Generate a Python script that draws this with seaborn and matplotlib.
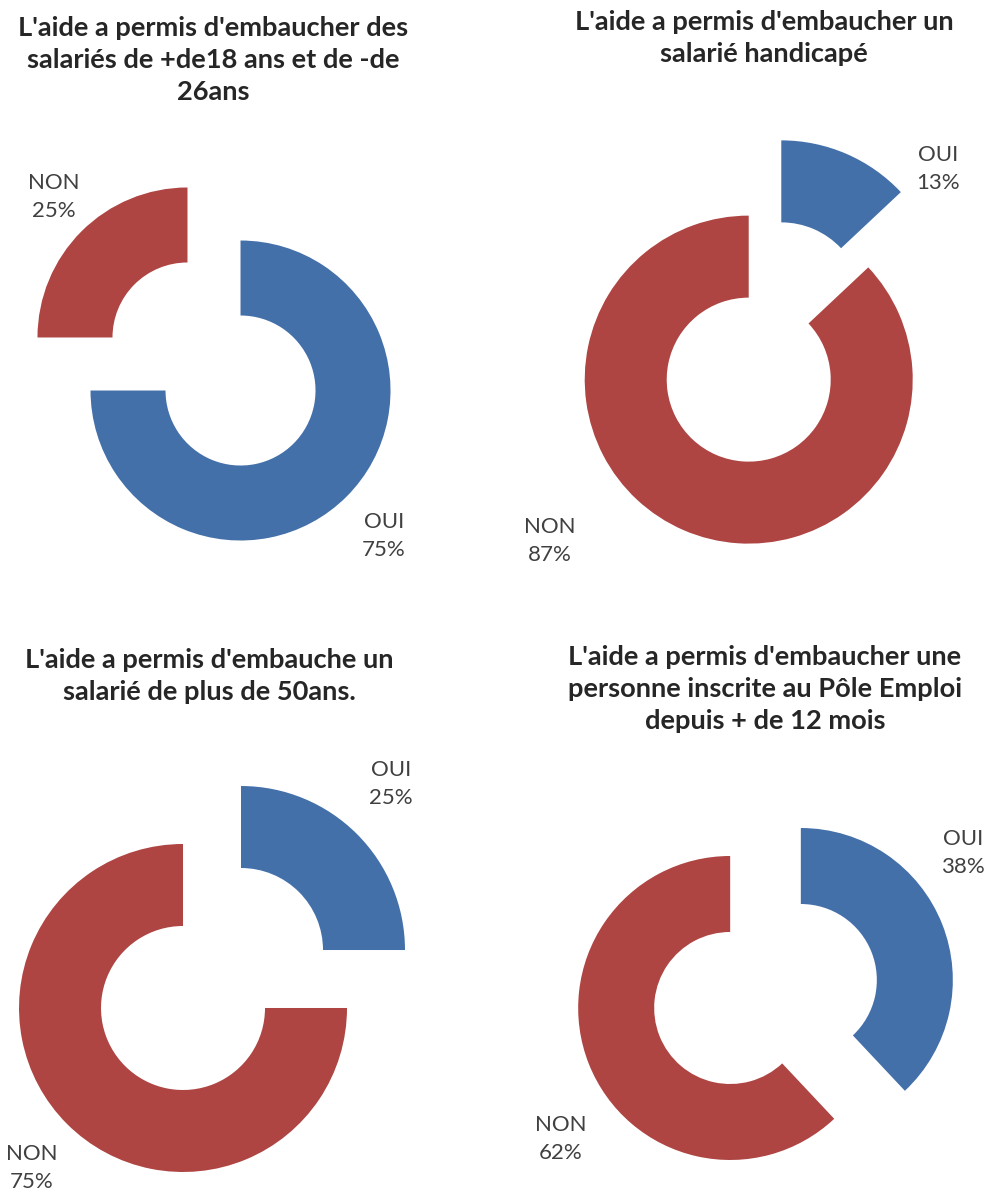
import matplotlib
matplotlib.use("Agg")
import matplotlib.pyplot as plt
import seaborn as sns

# Survey answers: share of employers saying the hiring aid helped them hire each profile
titles = [
    "L'aide a permis d'embaucher des\nsalariés de +de18 ans et de -de\n26ans",
    "L'aide a permis d'embaucher un\nsalarié handicapé",
    "L'aide a permis d'embauche un\nsalarié de plus de 50ans.",
    "L'aide a permis d'embaucher une\npersonne inscrite au Pôle Emploi\ndepuis + de 12 mois",
]
categories = ["OUI", "NON"]
oui_pct = [75, 13, 25, 38]
non_pct = [25, 87, 75, 62]

sns.set_theme(style="white")
plt.rcParams["font.family"] = ["Lato", "DejaVu Sans"]
palette = sns.color_palette(["#4470AA", "#AE4543"])

W, H = 989, 1193
fig = plt.figure(figsize=(W / 100, H / 100), dpi=100)
ax = fig.add_axes([0, 0, 1, 1])

# Panel layout in pixels, measured from the top-left corner
centers = [(214, 364), (765, 342), (212, 979), (765.5, 994)]
radii = [150, 164, 164, 152]
title_pos = [(213, 60), (764, 38), (209, 676), (765, 689)]
label_pos = [
    {"OUI": (384, 536), "NON": (54, 197)},
    {"OUI": (938, 169), "NON": (550, 541)},
    {"OUI": (391, 784), "NON": (32, 1168)},
    {"OUI": (963, 853), "NON": (561, 1139)},
]

for i in range(4):
    values = [oui_pct[i], non_pct[i]]
    cx, cy = centers[i]
    r = radii[i]
    ax.pie(
        values,
        colors=palette,
        startangle=90,
        counterclock=False,
        center=(cx, H - cy),
        radius=r,
        explode=[0.25 * r] * len(values),
        wedgeprops=dict(width=0.5 * r, edgecolor="none", linewidth=0),
    )
    tx, ty = title_pos[i]
    ax.text(tx, H - ty, titles[i], ha="center", va="center",
            fontsize=19.6, fontweight="bold", color="#262626", linespacing=1.4)
    for cat, val in zip(categories, values):
        lx, ly = label_pos[i][cat]
        ax.text(lx, H - ly, f"{cat}\n{val}%", ha="center", va="center",
                fontsize=16, color="#404040", linespacing=1.55)

ax.set_xlim(0, W)
ax.set_ylim(0, H)
ax.set_aspect("auto")
ax.axis("off")

fig.savefig("out.png", dpi=100, facecolor="white")
